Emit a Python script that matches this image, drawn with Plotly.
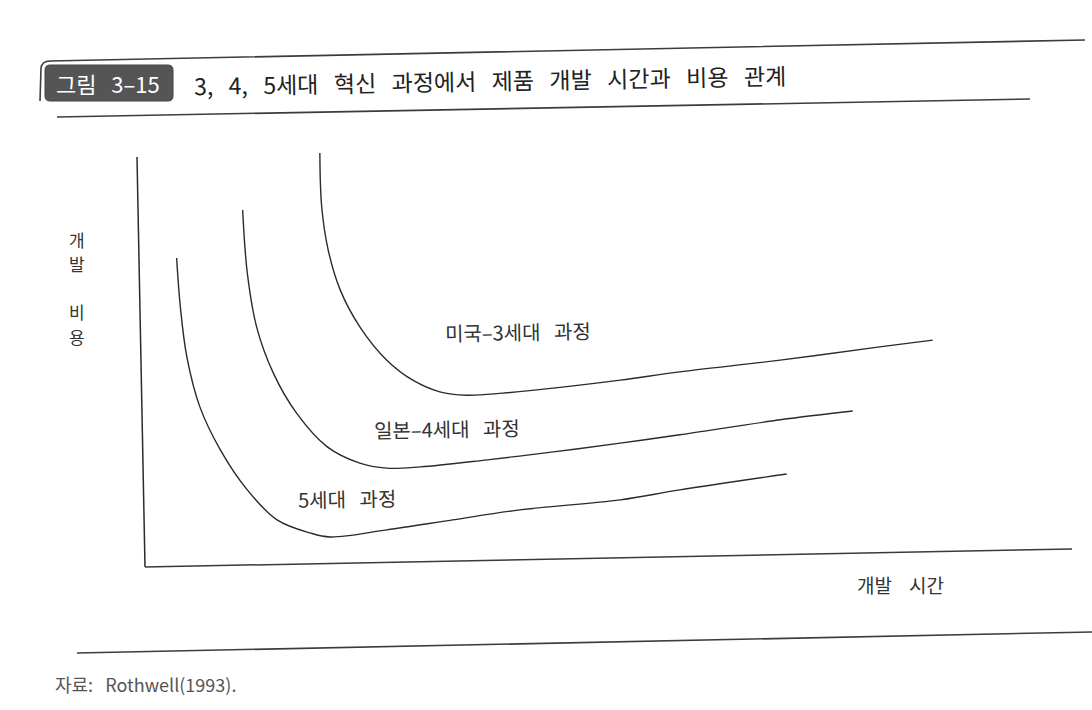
import plotly.graph_objects as go

W, H = 1092, 710

# curve data (development time -> development cost)
us_time = [18.8, 19.0, 19.7, 21.0, 23.1, 26.0, 28.8, 31.7, 34.6, 38.5, 43.9, 51.1, 57.5, 68.3, 79.0, 84.7]
us_cost = [99.3, 86.4, 76.0, 66.4, 57.6, 49.6, 44.8, 42.0, 41.2, 41.7, 42.9, 44.8, 46.8, 49.6, 52.8, 54.4]

jp_time = [10.5, 11.0, 12.0, 13.8, 16.3, 19.6, 23.1, 26.0, 29.6, 36.8, 43.9, 51.1, 57.5, 68.3, 76.1]
jp_cost = [85.6, 70.5, 57.6, 46.5, 36.9, 28.8, 24.9, 23.7, 24.0, 25.7, 27.6, 29.7, 31.7, 35.3, 37.4]

g5_time = [3.4, 3.8, 4.5, 5.9, 8.1, 11.0, 14.2, 17.7, 19.9, 26.0, 33.1, 40.3, 51.1, 57.5, 69.0]
g5_cost = [74.1, 62.4, 50.4, 38.4, 28.1, 18.5, 11.3, 8.2, 7.2, 8.9, 11.3, 13.7, 16.1, 18.5, 22.3]

curve_names = ["미국–3세대 과정", "일본–4세대 과정", "5세대 과정"]
label_time = [40.1, 32.5, 21.7]
label_cost = [56.4, 33.3, 16.5]

title_tag = "그림 3–15"
title_text = "3, 4, 5세대 혁신 과정에서 제품 개발 시간과 비용 관계"
y_title_chars = ["개", "발", "비", "용"]
y_title_pos = [239, 264, 311, 336]
x_title = "개발 시간"
source = "자료: Rothwell(1993)."

FONT = "Noto Sans CJK KR"
INK = "#2b2b2b"


def px(x):
    return x / W


def py(y):
    return 1 - y / H


def wide(s, n):
    # the scan sets words far apart
    return s.replace(" ", "\u00a0" * n)


fig = go.Figure()

for t, c in [(us_time, us_cost), (jp_time, jp_cost), (g5_time, g5_cost)]:
    fig.add_trace(go.Scatter(
        x=t, y=c, mode="lines",
        line=dict(color=INK, width=1.4, shape="spline", smoothing=1.0),
        hoverinfo="skip", showlegend=False))

for name, tx, cy in zip(curve_names, label_time, label_cost):
    fig.add_annotation(x=tx, y=cy, xref="x", yref="y", text=wide(name, 3),
                       showarrow=False, textangle=-1,
                       xanchor="center", yanchor="middle",
                       font=dict(family=FONT, size=20, color="#333333"))

shapes = []
# axes (the scan is slightly rotated)
shapes.append(dict(type="line", xref="paper", yref="paper",
                   x0=px(137), y0=py(157), x1=px(145), y1=py(567),
                   line=dict(color=INK, width=1.5)))
shapes.append(dict(type="line", xref="paper", yref="paper",
                   x0=px(145), y0=py(567), x1=px(1072), y1=py(549),
                   line=dict(color="#3a3a3a", width=1.5)))

# rules around the caption and above the source
top_rule = "M {} {} L {} {} Q {} {} {} {} L {} {}".format(
    px(40), py(101), px(41), py(68), px(42), py(61), px(50), py(61), px(1085), py(40))
shapes.append(dict(type="path", xref="paper", yref="paper", path=top_rule,
                   line=dict(color="#3c3c3c", width=1.6)))
shapes.append(dict(type="line", xref="paper", yref="paper",
                   x0=px(57), y0=py(117), x1=px(1030), y1=py(99),
                   line=dict(color="#3c3c3c", width=1.6)))
shapes.append(dict(type="line", xref="paper", yref="paper",
                   x0=px(77), y0=py(653), x1=px(1092), y1=py(632),
                   line=dict(color="#3c3c3c", width=1.6)))

# caption tag box
r = 5
x0, x1, y0, y1 = 45, 173, 65, 101
box = ("M {a} {b} L {c} {b} Q {d} {b} {d} {e} L {d} {f} Q {d} {g} {c} {g} "
       "L {a} {g} Q {h} {g} {h} {f} L {h} {e} Q {h} {b} {a} {b} Z").format(
    a=px(x0 + r), b=py(y0), c=px(x1 - r), d=px(x1), e=py(y0 + r),
    f=py(y1 - r), g=py(y1), h=px(x0))
shapes.append(dict(type="path", xref="paper", yref="paper", path=box,
                   fillcolor="#555555", line=dict(color="#444444", width=1)))

fig.add_annotation(x=px(108), y=py(83), xref="paper", yref="paper",
                   text=wide(title_tag, 3), showarrow=False,
                   xanchor="center", yanchor="middle",
                   font=dict(family=FONT, size=22, color="white"))
fig.add_annotation(x=px(490), y=py(80), xref="paper", yref="paper",
                   text=wide(title_text, 3), showarrow=False, textangle=-1,
                   xanchor="center", yanchor="middle",
                   font=dict(family=FONT, size=23, color="#222222"))
for ch, yy in zip(y_title_chars, y_title_pos):
    fig.add_annotation(x=px(77), y=py(yy), xref="paper", yref="paper",
                       text=ch, showarrow=False, borderpad=0,
                       xanchor="center", yanchor="middle",
                       font=dict(family=FONT, size=17, color="#333333"))
fig.add_annotation(x=px(900), y=py(584), xref="paper", yref="paper",
                   text=wide(x_title, 4), showarrow=False,
                   xanchor="center", yanchor="middle",
                   font=dict(family=FONT, size=19, color="#333333"))
fig.add_annotation(x=px(53), y=py(684), xref="paper", yref="paper",
                   text=wide(source, 3), showarrow=False,
                   xanchor="left", yanchor="middle",
                   font=dict(family=FONT, size=18, color="#555555"))

fig.update_layout(
    width=W, height=H,
    margin=dict(l=0, r=0, t=0, b=0),
    paper_bgcolor="white", plot_bgcolor="white",
    shapes=shapes,
    xaxis=dict(domain=[px(145), px(1075)], range=[0, 100], visible=False, fixedrange=True),
    yaxis=dict(domain=[py(567), py(150)], range=[0, 100], visible=False, fixedrange=True),
)

fig.write_html("out.html", config={"displayModeBar": False},
               post_script="document.body.style.margin = '0';")
